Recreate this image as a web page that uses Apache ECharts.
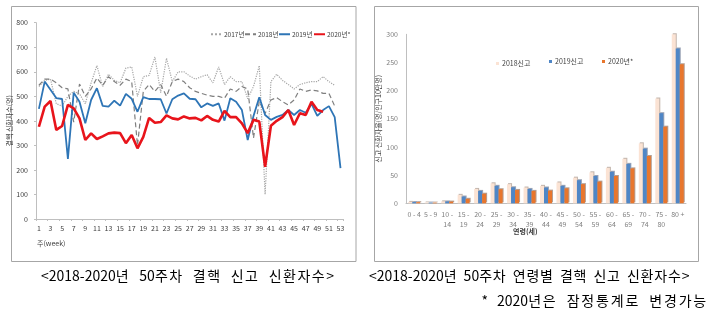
<!DOCTYPE html>
<html><head><meta charset="utf-8">
<script src="https://cdn.jsdelivr.net/npm/echarts@6/dist/echarts.min.js"></script>
<style>
html,body{margin:0;padding:0;background:#fff;}
#wrap{position:relative;width:720px;height:329px;}
#c{position:absolute;left:0;top:0;width:720px;height:329px;}
.cap{position:absolute;white-space:nowrap;font-family:"Noto Sans CJK KR","Noto Sans",sans-serif;font-size:14px;line-height:15px;color:#000;}
</style>
</head><body><div id="wrap"><div id="c"></div>
<div class="cap" id="cap1" style="left:41px;top:268px;word-spacing:6px;"></div>
<div class="cap" id="cap2" style="left:369px;top:268px;word-spacing:3px;"></div>
<div class="cap" id="cap3" style="right:12px;top:293px;word-spacing:6px;"></div>
</div>
<script>
const weeks = ['1','2','3','4','5','6','7','8','9','10','11','12','13','14','15','16','17','18','19','20','21','22','23','24','25','26','27','28','29','30','31','32','33','34','35','36','37','38','39','40','41','42','43','44','45','46','47','48','49','50','51','52','53'];
const y2017 = [540,565,570,470,460,500,520,510,470,555,625,540,590,565,555,615,620,500,580,585,660,515,655,560,600,600,583,570,580,588,555,620,548,580,560,560,490,540,625,100,560,590,565,548,530,548,555,560,560,580,560,545,null];
const y2018 = [545,570,570,555,535,530,395,550,500,530,575,545,580,560,545,570,560,300,520,548,520,548,500,560,570,560,535,520,512,505,500,500,492,530,520,540,530,330,480,430,485,495,478,465,485,530,520,526,522,512,512,460,null];
const y2019 = [449,560,527,493,489,245,515,478,390,485,533,461,458,482,462,510,490,437,497,489,489,488,430,488,503,512,490,488,455,471,461,471,401,492,478,444,322,420,496,424,404,416,424,444,424,444,433,469,420,444,460,415,207];
const y2020 = [376,458,481,363,379,465,451,410,322,349,326,337,349,352,350,309,342,288,335,412,392,395,422,410,406,418,410,412,402,420,404,397,441,415,415,390,350,404,397,213,380,400,415,444,383,431,424,478,444,437,null,null,null];
const lineNames = ['2017년','2018년','2019년','2020년*'];
const yTicksLeft = {min:0, max:800, interval:100};

const ageGroups = ['0 - 4','5 - 9','10 -\n14','15 -\n19','20 -\n24','25 -\n29','30 -\n34','35 -\n39','40 -\n44','45 -\n49','50 -\n54','55 -\n59','60 -\n64','65 -\n69','70 -\n74','75 -\n80','80 +'];
const r2018 = [2.5,1.5,3.5,15,25.5,35.5,34,28,31,37,45.5,55,63,79,106.5,186,300];
const r2019 = [2.2,1.3,3.3,12,22,31,28.5,25.5,28,31,41,48.5,56,70,97,160,275];
const r2020 = [2,1.2,3,8,17,25,23.7,22,22.5,26.6,34,38.5,48.5,62,84,136,247];
const barNames = ['2018신고','2019신고','2020년*'];
const yTicksRight = {min:0, max:300, interval:50};

const captions = ['<2018-2020년 50주차 결핵 신고 신환자수>','<2018-2020년 50주차 연령별 결핵 신고 신환자수>','* 2020년은 잠정통계로 변경가능'];
function capHtml(s, ks){
  return Array.from(s).map(ch=>{
    const e = ch==='<'?'&lt;':ch==='>'?'&gt;':ch;
    return /[\uAC00-\uD7A3]/.test(ch) ? '<span style="letter-spacing:'+ks+'px">'+e+'</span>' : e;
  }).join('');
}
document.getElementById('cap1').innerHTML = capHtml(captions[0], 1.5);
document.getElementById('cap2').innerHTML = capHtml(captions[1], 0.8);
document.getElementById('cap3').innerHTML = capHtml(captions[2], 1.8);

const F = '"Noto Sans CJK KR","Noto Sans",sans-serif';
const tc = '#404040';
const chart = echarts.init(document.getElementById('c'), null, {renderer:'canvas'});
const axisLine = {show:true, lineStyle:{color:'#BFBFBF', width:1}};
const lineLegend = (name, left) => ({data:[name], left:left, top:26, itemWidth:11, itemHeight:6,
  itemStyle:{opacity:0}, textStyle:{fontSize:6.5, color:tc, fontFamily:F, padding:[0,0,0,-3]}});
const barLegend = (name, label, left, top) => ({data:[name], left:left, top:top, icon:'rect', itemWidth:3, itemHeight:3,
  formatter:()=>label, textStyle:{fontSize:7, color:tc, fontFamily:F, padding:[0,0,0,-2]}});
chart.setOption({
  animation:false,
  textStyle:{fontFamily:F},
  grid:[
    {left:36, top:22.7, width:307.4, height:196.3},
    {left:406, top:34.3, width:280, height:169}
  ],
  legend:[
    lineLegend(lineNames[0], 205),
    lineLegend(lineNames[1], 239),
    lineLegend(lineNames[2], 273),
    lineLegend(lineNames[3], 308),
    barLegend('b0', barNames[0], 491, 55),
    barLegend('b1', barNames[1], 544, 53),
    barLegend('b2', barNames[2], 597, 53)
  ],
  xAxis:[
    {type:'category', gridIndex:0, data:weeks, boundaryGap:true, axisLine:axisLine,
     axisTick:{show:true, length:2, lineStyle:{color:'#BFBFBF'}},
     axisLabel:{interval:1, fontSize:7, color:tc, margin:6}},
    {type:'category', gridIndex:1, data:ageGroups, axisLine:axisLine, axisTick:{show:false},
     axisLabel:{interval:0, fontSize:7, color:'#7F7F7F', margin:6, lineHeight:10}}
  ],
  yAxis:[
    {type:'value', gridIndex:0, min:yTicksLeft.min, max:yTicksLeft.max, interval:yTicksLeft.interval,
     splitLine:{show:false}, axisLine:axisLine, axisTick:{show:true, length:2, lineStyle:{color:'#BFBFBF'}},
     axisLabel:{fontSize:7, color:tc, margin:8},
     name:'결핵 신환자수(명)', nameLocation:'middle', nameRotate:90, nameGap:19,
     nameTextStyle:{fontSize:7, color:tc, fontFamily:F}},
    {type:'value', gridIndex:1, min:yTicksRight.min, max:yTicksRight.max, interval:yTicksRight.interval,
     splitLine:{show:false}, axisLine:axisLine, axisTick:{show:false},
     axisLabel:{fontSize:7, color:'#7F7F7F', margin:8},
     name:'신고 신환자율(명/인구10만명)', nameLocation:'middle', nameRotate:90, nameGap:24,
     nameTextStyle:{fontSize:7, color:tc, fontFamily:F}}
  ],
  series:[
    {name:lineNames[0], type:'line', xAxisIndex:0, yAxisIndex:0, data:y2017, symbol:'none', z:2,
     lineStyle:{type:'dotted', width:1.2, color:'#A6A6A6'}, itemStyle:{color:'#A6A6A6'}},
    {name:lineNames[1], type:'line', xAxisIndex:0, yAxisIndex:0, data:y2018, symbol:'none', z:3,
     lineStyle:{type:[5,3], width:1.2, color:'#7F7F7F'}, itemStyle:{color:'#7F7F7F'}},
    {name:lineNames[2], type:'line', xAxisIndex:0, yAxisIndex:0, data:y2019, symbol:'none', z:4,
     lineStyle:{width:1.8, color:'#2E75B6'}, itemStyle:{color:'#2E75B6'}},
    {name:lineNames[3], type:'line', xAxisIndex:0, yAxisIndex:0, data:y2020, symbol:'none', z:5,
     lineStyle:{width:2.6, color:'#E8141B'}, itemStyle:{color:'#E8141B'}},
    {name:'b0', type:'bar', xAxisIndex:1, yAxisIndex:1, data:r2018, barWidth:4, barGap:'0%',
     itemStyle:{color:'#FBE3D4', shadowColor:'rgba(120,90,70,0.45)', shadowOffsetX:1, shadowOffsetY:-1}},
    {name:'b1', type:'bar', xAxisIndex:1, yAxisIndex:1, data:r2019, barWidth:4, barGap:'0%',
     itemStyle:{color:'#4F86C6', shadowColor:'rgba(30,50,90,0.45)', shadowOffsetX:1, shadowOffsetY:-1}},
    {name:'b2', type:'bar', xAxisIndex:1, yAxisIndex:1, data:r2020, barWidth:4, barGap:'0%',
     itemStyle:{color:'#E8762D', shadowColor:'rgba(90,40,10,0.45)', shadowOffsetX:1, shadowOffsetY:-1}}
  ],
  graphic:[
    {type:'rect', shape:{x:11.5, y:6.5, width:344.5, height:255}, style:{fill:'none', stroke:'#A6A6A6', lineWidth:1}, silent:true},
    {type:'rect', shape:{x:374.5, y:6.5, width:324, height:255}, style:{fill:'none', stroke:'#A6A6A6', lineWidth:1}, silent:true},
    {type:'text', left:37, top:240, style:{text:'주(week)', fontSize:7, fill:tc, fontFamily:F}},
    {type:'text', left:513, top:228, style:{text:'연령(세)', fontSize:7, fill:tc, fontFamily:F, fontWeight:'bold'}}
  ]
});
</script></body></html>
